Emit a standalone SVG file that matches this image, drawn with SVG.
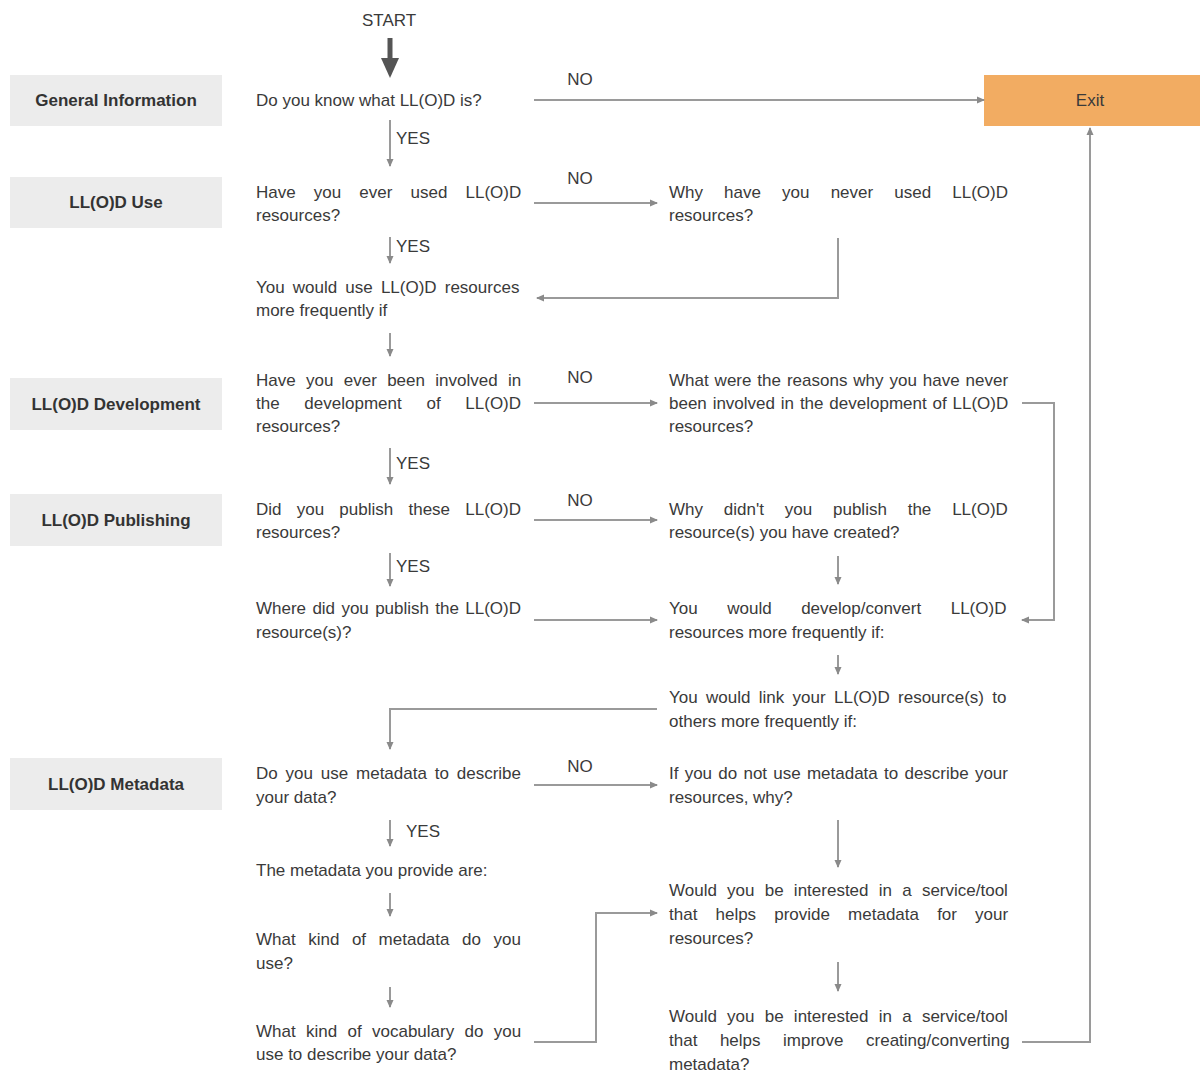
<svg xmlns="http://www.w3.org/2000/svg" width="1200" height="1072" viewBox="0 0 1200 1072">
<style>
.t{font-family:"Liberation Sans",Arial,sans-serif;font-size:17px;fill:#3a3a3a}
.b{font-family:"Liberation Sans",Arial,sans-serif;font-size:17px;font-weight:bold;fill:#333}
.sec{fill:#ececec}
.c{fill:none;stroke:#9a9a9a;stroke-width:2}
.lbl{font-family:"Liberation Sans",Arial,sans-serif;font-size:17px;fill:#3a3a3a}
</style>
<defs>
<marker id="ah" markerWidth="8" markerHeight="8" refX="7" refY="4" orient="auto" markerUnits="userSpaceOnUse">
<path d="M0,0.5 L8,4 L0,7.5 Z" fill="#8a8a8a"/>
</marker>
<marker id="big" markerWidth="18" markerHeight="20" refX="9" refY="0" orient="0" markerUnits="userSpaceOnUse">
<path d="M0,0 L18,0 L9,20 Z" fill="#555"/>
</marker>
</defs>
<rect width="1200" height="1072" fill="#fff"/>

<g id="sections">
<g id="sec-general"><rect class="sec" x="10" y="75" width="212" height="51"/><text class="b" x="116" y="106" text-anchor="middle">General Information</text></g>
<g id="sec-use"><rect class="sec" x="10" y="177" width="212" height="51"/><text class="b" x="116" y="208" text-anchor="middle">LL(O)D Use</text></g>
<g id="sec-dev"><rect class="sec" x="10" y="378" width="212" height="52"/><text class="b" x="116" y="410" text-anchor="middle">LL(O)D Development</text></g>
<g id="sec-pub"><rect class="sec" x="10" y="494" width="212" height="52"/><text class="b" x="116" y="526" text-anchor="middle">LL(O)D Publishing</text></g>
<g id="sec-meta"><rect class="sec" x="10" y="758" width="212" height="52"/><text class="b" x="116" y="790" text-anchor="middle">LL(O)D Metadata</text></g>
</g>

<g id="start"><text class="t" x="389" y="26" text-anchor="middle">START</text></g>
<g id="exit"><rect x="984" y="75" width="216" height="51" fill="#f2ac62"/><text class="t" x="1090" y="106" text-anchor="middle">Exit</text></g>

<g id="q-know"><text class="t" x="256" y="106">Do you know what LL(O)D is?</text></g>
<g id="q-used"><text class="t" x="256" y="198" word-spacing="13.4">Have you ever used LL(O)D</text><text class="t" x="256" y="221">resources?</text></g>
<g id="q-why-never"><text class="t" x="669" y="198" word-spacing="16.4">Why have you never used LL(O)D</text><text class="t" x="669" y="221">resources?</text></g>
<g id="q-more-freq"><text class="t" x="256" y="293" word-spacing="3.4">You would use LL(O)D resources</text><text class="t" x="256" y="316">more frequently if</text></g>
<g id="q-involved"><text class="t" x="256" y="386" word-spacing="5.6">Have you ever been involved in</text><text class="t" x="256" y="409" word-spacing="20">the development of LL(O)D</text><text class="t" x="256" y="432">resources?</text></g>
<g id="q-reasons"><text class="t" x="669" y="386" word-spacing="1.2">What were the reasons why you have never</text><text class="t" x="669" y="409" word-spacing="1.1">been involved in the development of LL(O)D</text><text class="t" x="669" y="432">resources?</text></g>
<g id="q-publish"><text class="t" x="256" y="515" word-spacing="10.5">Did you publish these LL(O)D</text><text class="t" x="256" y="538">resources?</text></g>
<g id="q-why-not-pub"><text class="t" x="669" y="515" word-spacing="16.1">Why didn't you publish the LL(O)D</text><text class="t" x="669" y="538">resource(s) you have created?</text></g>
<g id="q-where"><text class="t" x="256" y="614" word-spacing="1.6">Where did you publish the LL(O)D</text><text class="t" x="256" y="638">resource(s)?</text></g>
<g id="q-develop"><text class="t" x="669" y="614" word-spacing="24.8">You would develop/convert LL(O)D</text><text class="t" x="669" y="638">resources more frequently if:</text></g>
<g id="q-link"><text class="t" x="669" y="703" word-spacing="3.6">You would link your LL(O)D resource(s) to</text><text class="t" x="669" y="727">others more frequently if:</text></g>
<g id="q-metadata"><text class="t" x="256" y="779" word-spacing="3.1">Do you use metadata to describe</text><text class="t" x="256" y="803">your data?</text></g>
<g id="q-no-meta"><text class="t" x="669" y="779" word-spacing="1.5">If you do not use metadata to describe your</text><text class="t" x="669" y="803">resources, why?</text></g>
<g id="q-provide"><text class="t" x="256" y="876">The metadata you provide are:</text></g>
<g id="q-kind"><text class="t" x="256" y="945" word-spacing="7.8">What kind of metadata do you</text><text class="t" x="256" y="969">use?</text></g>
<g id="q-vocab"><text class="t" x="256" y="1037" word-spacing="5.6">What kind of vocabulary do you</text><text class="t" x="256" y="1060">use to describe your data?</text></g>
<g id="q-tool1"><text class="t" x="669" y="896" word-spacing="5.5">Would you be interested in a service/tool</text><text class="t" x="669" y="920" word-spacing="13.4">that helps provide metadata for your</text><text class="t" x="669" y="944">resources?</text></g>
<g id="q-tool2"><text class="t" x="669" y="1022" word-spacing="5.5">Would you be interested in a service/tool</text><text class="t" x="669" y="1046" word-spacing="17.8">that helps improve creating/converting</text><text class="t" x="669" y="1070">metadata?</text></g>

<g id="connectors">
<line x1="390" y1="38" x2="390" y2="58" stroke="#555" stroke-width="5" marker-end="url(#big)"/>
<line class="c" x1="534" y1="100" x2="984" y2="100" marker-end="url(#ah)"/>
<line class="c" x1="390" y1="120" x2="390" y2="166" marker-end="url(#ah)"/>
<line class="c" x1="534" y1="203" x2="657" y2="203" marker-end="url(#ah)"/>
<line class="c" x1="390" y1="237" x2="390" y2="263" marker-end="url(#ah)"/>
<polyline class="c" points="838,238 838,298 537,298" marker-end="url(#ah)"/>
<line class="c" x1="390" y1="333" x2="390" y2="356" marker-end="url(#ah)"/>
<line class="c" x1="534" y1="403" x2="657" y2="403" marker-end="url(#ah)"/>
<polyline class="c" points="1022,403 1054,403 1054,620 1022,620" marker-end="url(#ah)"/>
<line class="c" x1="390" y1="448" x2="390" y2="484" marker-end="url(#ah)"/>
<line class="c" x1="534" y1="520" x2="657" y2="520" marker-end="url(#ah)"/>
<line class="c" x1="390" y1="553" x2="390" y2="586" marker-end="url(#ah)"/>
<line class="c" x1="838" y1="556" x2="838" y2="584" marker-end="url(#ah)"/>
<line class="c" x1="534" y1="620" x2="657" y2="620" marker-end="url(#ah)"/>
<line class="c" x1="838" y1="655" x2="838" y2="674" marker-end="url(#ah)"/>
<polyline class="c" points="657,709 390,709 390,749" marker-end="url(#ah)"/>
<line class="c" x1="534" y1="785" x2="657" y2="785" marker-end="url(#ah)"/>
<line class="c" x1="390" y1="820" x2="390" y2="846" marker-end="url(#ah)"/>
<line class="c" x1="838" y1="820" x2="838" y2="867" marker-end="url(#ah)"/>
<line class="c" x1="390" y1="893" x2="390" y2="916" marker-end="url(#ah)"/>
<line class="c" x1="838" y1="962" x2="838" y2="991" marker-end="url(#ah)"/>
<line class="c" x1="390" y1="987" x2="390" y2="1007" marker-end="url(#ah)"/>
<polyline class="c" points="534,1042 596,1042 596,913 657,913" marker-end="url(#ah)"/>
<polyline class="c" points="1022,1042 1090,1042 1090,128" marker-end="url(#ah)"/>
<text class="lbl" x="580" y="85" text-anchor="middle">NO</text>
<text class="lbl" x="580" y="184" text-anchor="middle">NO</text>
<text class="lbl" x="580" y="383" text-anchor="middle">NO</text>
<text class="lbl" x="580" y="506" text-anchor="middle">NO</text>
<text class="lbl" x="580" y="772" text-anchor="middle">NO</text>
<text class="lbl" x="396" y="144">YES</text>
<text class="lbl" x="396" y="252">YES</text>
<text class="lbl" x="396" y="469">YES</text>
<text class="lbl" x="396" y="572">YES</text>
<text class="lbl" x="406" y="837">YES</text>
</g>
</svg>
